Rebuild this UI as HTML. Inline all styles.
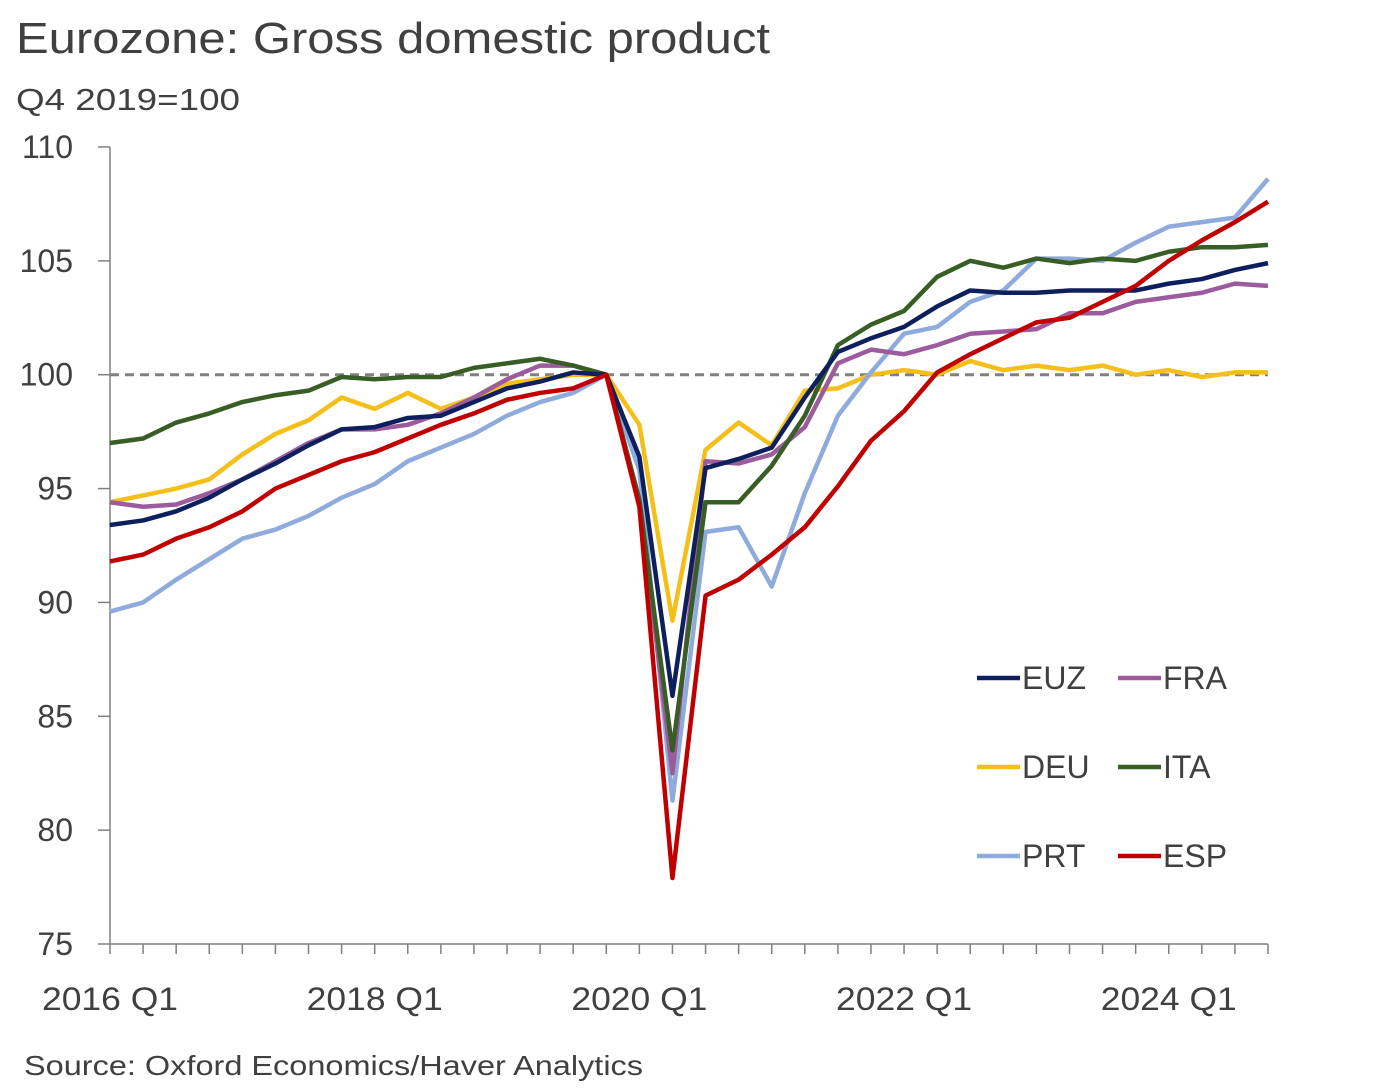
<!DOCTYPE html>
<html><head><meta charset="utf-8"><style>
body{margin:0;background:#fff;width:1381px;height:1087px;overflow:hidden;font-family:"Liberation Sans",sans-serif}
svg text{font-family:"Liberation Sans",sans-serif;fill:#404040}
</style></head><body>
<svg id="chart" width="1381" height="1087" xmlns="http://www.w3.org/2000/svg">
<text x="16" y="53" font-size="44" textLength="754" lengthAdjust="spacingAndGlyphs">Eurozone: Gross domestic product</text>
<text x="16" y="110" font-size="31" textLength="224" lengthAdjust="spacingAndGlyphs">Q4 2019=100</text>
<text x="24" y="1075" font-size="28" textLength="619" lengthAdjust="spacingAndGlyphs">Source: Oxford Economics/Haver Analytics</text>
<g id="axes"></g><g id="series"></g><g id="legend"></g>
</svg>
<script>
const yTicks=[75,80,85,90,95,100,105,110];
const xLabels=["2016 Q1","2018 Q1","2020 Q1","2022 Q1","2024 Q1"];
const xLabelIdx=[0,8,16,24,32];
const seriesNames=["EUZ","FRA","DEU","ITA","PRT","ESP"];
const EUZ=[93.4,93.6,94.0,94.6,95.4,96.1,96.9,97.6,97.7,98.1,98.2,98.8,99.4,99.7,100.1,100,96.4,85.9,95.9,96.3,96.8,99.0,101.0,101.6,102.1,103.0,103.7,103.6,103.6,103.7,103.7,103.7,104.0,104.2,104.6,104.9];
const FRA=[94.4,94.2,94.3,94.8,95.4,96.2,97.0,97.6,97.6,97.8,98.3,99.0,99.8,100.4,100.4,100,94.5,82.5,96.2,96.1,96.5,97.7,100.5,101.1,100.9,101.3,101.8,101.9,102.0,102.7,102.7,103.2,103.4,103.6,104.0,103.9];
const DEU=[94.4,94.7,95.0,95.4,96.5,97.4,98.0,99.0,98.5,99.2,98.5,99.0,99.6,99.8,100.0,100,97.8,89.2,96.7,97.9,96.9,99.3,99.4,100.0,100.2,100.0,100.6,100.2,100.4,100.2,100.4,100.0,100.2,99.9,100.1,100.1];
const ITA=[97.0,97.2,97.9,98.3,98.8,99.1,99.3,99.9,99.8,99.9,99.9,100.3,100.5,100.7,100.4,100,94.5,83.5,94.4,94.4,96.0,98.2,101.3,102.2,102.8,104.3,105.0,104.7,105.1,104.9,105.1,105.0,105.4,105.6,105.6,105.7];
const PRT=[89.6,90.0,91.0,91.9,92.8,93.2,93.8,94.6,95.2,96.2,96.8,97.4,98.2,98.8,99.2,100,95.8,81.3,93.1,93.3,90.7,94.8,98.2,100.1,101.8,102.1,103.2,103.7,105.1,105.1,105.0,105.8,106.5,106.7,106.9,108.6];
const ESP=[91.8,92.1,92.8,93.3,94.0,95.0,95.6,96.2,96.6,97.2,97.8,98.3,98.9,99.2,99.4,100,94.2,77.9,90.3,91.0,92.1,93.3,95.1,97.1,98.4,100.1,100.9,101.6,102.3,102.5,103.2,103.9,105.0,105.9,106.7,107.6];
const data={EUZ,FRA,DEU,ITA,PRT,ESP};
const colors={EUZ:"#0d1f5c",FRA:"#9b5b9c",DEU:"#f5bf1a",ITA:"#385e25",PRT:"#8faadc",ESP:"#c00000"};
const NS="http://www.w3.org/2000/svg";
const x0=110,x1=1268,yTop=147,yBot=944,n=36;
const xs=i=>x0+(x1-x0)*i/(n-1);
const ys=v=>yBot-(v-75)/(110-75)*(yBot-yTop);
function mk(tag,attrs,parent){const e=document.createElementNS(NS,tag);for(const k in attrs)e.setAttribute(k,attrs[k]);parent.appendChild(e);return e;}
const ax=document.getElementById('axes');
let e=mk('line',{x1:x0,y1:yTop,x2:x0,y2:yBot,stroke:"#808080","stroke-width":1.5},ax);


e=mk('line',{x1:x0,y1:yBot,x2:x1,y2:yBot,stroke:"#808080","stroke-width":1.5},ax);


yTicks.forEach(v=>{
  mk('line',{x1:98,y1:ys(v),x2:x0,y2:ys(v),stroke:"#808080","stroke-width":1.5},ax);
  const t=mk('text',{x:73,y:ys(v)+11,"font-size":32,"text-anchor":"end"},ax);
  t.textContent=v;
  
  
});
for(let i=0;i<n;i++)mk('line',{x1:xs(i),y1:yBot,x2:xs(i),y2:yBot+10,stroke:"#808080","stroke-width":1.5},ax);
xLabels.forEach((l,k)=>{
  const t=mk('text',{x:xs(xLabelIdx[k])-68,y:1010,"font-size":32,textLength:136,lengthAdjust:"spacingAndGlyphs"},ax);
  t.textContent=l;
  
  
});
e=mk('line',{x1:x0,y1:ys(100),x2:x1,y2:ys(100),stroke:"#808080","stroke-width":3,"stroke-dasharray":"9,6"},ax);


const sg=document.getElementById('series');
["DEU","PRT","FRA","ITA","EUZ","ESP"].forEach(s=>{
  const p=mk('polyline',{points:data[s].map((v,i)=>xs(i)+","+ys(v)).join(" "),fill:"none",stroke:colors[s],"stroke-width":4.5,"stroke-linejoin":"round"},sg);
  
  
});
const lg=document.getElementById('legend');
seriesNames.forEach((s,k)=>{
  const lx=k%2?1118:977, ly=678+Math.floor(k/2)*89;
  const g=mk('g',{},lg);
  
  
  mk('line',{x1:lx,y1:ly,x2:lx+43,y2:ly,stroke:colors[s],"stroke-width":4.5},g);
  const t=mk('text',{x:lx+45,y:ly+11,"font-size":32},g);t.textContent=s;
});
</script>
</body></html>
